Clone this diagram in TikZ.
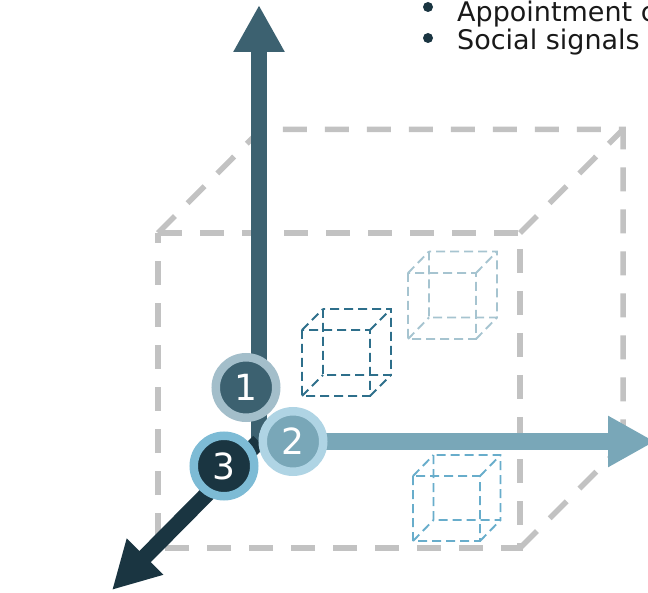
\documentclass[tikz,border=0pt]{standalone}
\usepackage{fontspec}
\setmainfont{DejaVu Sans}
\usetikzlibrary{arrows.meta}

\definecolor{axisdark}{HTML}{3C6170}
\definecolor{axislight}{HTML}{79A7B8}
\definecolor{axisnavy}{HTML}{1A3541}
\definecolor{ringone}{HTML}{A3BECA}
\definecolor{ringtwo}{HTML}{AFD4E4}
\definecolor{ringthree}{HTML}{7DBBD5}
\definecolor{cubegray}{HTML}{C2C2C2}
\definecolor{cubeA}{HTML}{2E6F8B}
\definecolor{cubeB}{HTML}{A6C4D0}
\definecolor{cubeC}{HTML}{68ADCB}
\definecolor{bulletcol}{HTML}{1A3541}

\tikzset{
  bigedge/.style={draw=cubegray, line width=5.5pt, dash pattern=on 24pt off 18pt},
  smalledge/.style={line width=1.9pt, dash pattern=on 9pt off 5pt},
  axisline/.style={line width=16pt, -{Triangle[length=47pt,width=48pt]}},
  badge/.style={circle, line width=8.5pt, minimum size=60.5pt, inner sep=0pt,
    text=white, font=\fontsize{36}{40}\selectfont},
  bulletdot/.style={circle, fill=bulletcol, minimum size=10pt, inner sep=0pt},
  listtext/.style={anchor=base west, inner sep=0pt, text=black!90,
    font=\fontsize{27}{30}\selectfont},
}

% dashed wire cube: front-top-left x, y, width, height, back offset dx, dy, colour
\newcommand{\dashcube}[7]{%
  \draw[smalledge, #7]
    (#1,#2) rectangle ++(#3,#4)
    (#1+#5,#2-#6) rectangle ++(#3,#4)
    (#1,#2) -- ++(#5,-#6)
    (#1+#3,#2) -- ++(#5,-#6)
    (#1,#2+#4) -- ++(#5,-#6)
    (#1+#3,#2+#4) -- ++(#5,-#6);}

\begin{document}
\begin{tikzpicture}[x=1pt,y=-1pt]
\useasboundingbox (0,0) rectangle (648,593);

% large reference cube (visible edges)
\coordinate (F1) at (158,233);
\coordinate (F2) at (520,233);
\coordinate (F3) at (520,548);
\coordinate (F4) at (158,548);
\coordinate (B1) at (261,129.5);
\coordinate (B2) at (623,129.5);
\coordinate (B3) at (623,445);
\draw[bigedge] (F1) -- (F2) -- (F3) -- (F4) -- cycle;
\draw[bigedge] (F1) -- (B1) -- (B2) -- (B3);
\draw[bigedge] (F2) -- (B2);
\draw[bigedge] (F3) -- (B3);

% small cubes
\dashcube{302}{330}{68}{66}{21}{21}{cubeA}
\dashcube{408}{273}{68}{66}{21}{21.5}{cubeB}
\dashcube{413}{476}{67}{65}{20.5}{21}{cubeC}

% axes
\coordinate (O) at (259,441.5);
\coordinate (ytip) at (259,5);
\coordinate (xtip) at (655,441.5);
\coordinate (ztip) at (112,590);
\draw[axisline, axisdark] (O) -- (ytip);
\draw[axisline, axislight] (O) -- (xtip);
\draw[axisline, axisnavy] (O) -- (ztip);

% numbered badges
\node[badge, fill=axisdark, draw=ringone] (n1) at (246,387.5) {1};
\node[badge, fill=axislight, draw=ringtwo] (n2) at (293,441.5) {2};
\node[badge, fill=axisnavy, draw=ringthree] (n3) at (224,466) {3};

% bullet list
\begin{scope}
\clip (0,0) rectangle (648,593);
\node[bulletdot] (b1) at (428,7) {};
\node[bulletdot] (b2) at (428,38) {};
\node[listtext] (t1) at (457,21.5) {Appointment c};
\node[listtext] (t2) at (457,50) {Social signals};
\end{scope}
\end{tikzpicture}
\end{document}
